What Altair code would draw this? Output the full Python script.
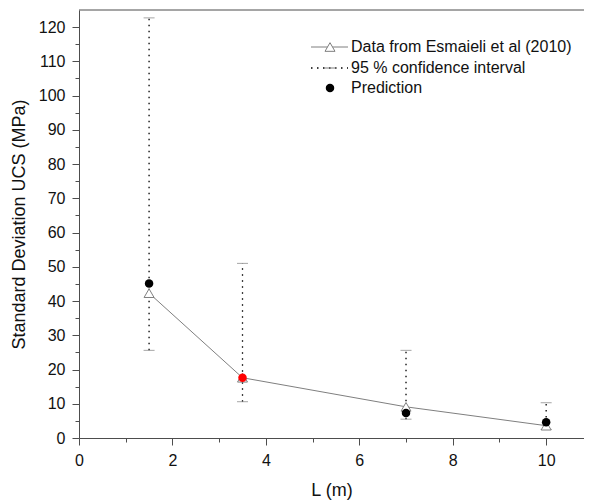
import altair as alt
import pandas as pd

# ---- data ----
L = [1.5, 3.5, 7, 10]
data_sd = [42.3, 17.6, 9.1, 3.6]        # Esmaieli et al (2010)
pred_sd = [45.1, 17.6, 7.3, 4.6]        # Prediction
ci_low = [25.6, 10.6, 5.5, 2.5]         # 95 % CI lower
ci_high = [122.7, 51.0, 25.6, 10.3]     # 95 % CI upper
pred_color = ["black", "red", "black", "black"]

legend_labels = ["Data from Esmaieli et al (2010)", "95 % confidence interval", "Prediction"]
x_ticks = list(range(0, 11))
y_ticks = list(range(0, 121, 5))

df = pd.DataFrame({"L": L, "data": data_sd, "pred": pred_sd,
                   "lo": ci_low, "hi": ci_high, "col": pred_color})

W, H = 505, 428
FONT = "Liberation Sans"
AX = "#4d4d4d"
GRAY = "#7f7f7f"

xs = alt.Scale(domain=[0, 10.81], nice=False, zero=False)
ys = alt.Scale(domain=[0, 125], nice=False)

x_axis = alt.Axis(values=x_ticks, labelExpr="datum.value % 2 === 0 ? datum.label : ''",
                  tickSize={"condition": {"test": "datum.value % 2 === 0", "value": 7}, "value": 4},
                  grid=False, domainColor=AX, tickColor=AX, labelColor="#111", titleColor="#111",
                  labelFont=FONT, titleFont=FONT, labelFontSize=16, titleFontSize=18,
                  titleFontWeight="normal", labelPadding=7, titlePadding=13, labelFlush=False,
                  labelOverlap=False)
y_axis = alt.Axis(values=y_ticks, labelExpr="datum.value % 10 === 0 ? datum.label : ''",
                  tickSize={"condition": {"test": "datum.value % 10 === 0", "value": 7}, "value": 4},
                  grid=False, domainColor=AX, tickColor=AX, labelColor="#111", titleColor="#111",
                  labelFont=FONT, titleFont=FONT, labelFontSize=16, titleFontSize=18,
                  titleFontWeight="normal", labelPadding=7, titlePadding=10, labelFlush=False,
                  labelOverlap=False)

base = alt.Chart(df)

ci = base.mark_rule(color="black", strokeWidth=1.3, strokeDash=[1.5, 4.5]).encode(
    x=alt.X("L:Q", scale=xs, axis=x_axis, title="L (m)"),
    y=alt.Y("lo:Q", scale=ys, axis=y_axis, title="Standard Deviation UCS (MPa)"),
    y2="hi:Q")
cap_lo = base.mark_tick(orient="horizontal", size=11, thickness=1, color=GRAY).encode(
    x=alt.X("L:Q", axis=x_axis), y=alt.Y("lo:Q", axis=y_axis))
cap_hi = base.mark_tick(orient="horizontal", size=11, thickness=1, color=GRAY).encode(
    x=alt.X("L:Q", axis=x_axis), y=alt.Y("hi:Q", axis=y_axis))
line = base.mark_line(color=GRAY, strokeWidth=1).encode(
    x=alt.X("L:Q", axis=x_axis), y=alt.Y("data:Q", axis=y_axis))
tri = base.mark_point(shape="triangle-up", filled=True, fill="white", stroke=GRAY,
                      strokeWidth=1, size=100, opacity=1).encode(
    x=alt.X("L:Q", axis=x_axis), y=alt.Y("data:Q", axis=y_axis))
pred = base.mark_circle(size=72, opacity=1).encode(
    x=alt.X("L:Q", axis=x_axis), y=alt.Y("pred:Q", axis=y_axis),
    color=alt.Color("col:N", scale=None, legend=None))

one = alt.Data(values=[{"a": 1}])
top_line = alt.Chart(one).mark_rule(color=AX, strokeWidth=1).encode(
    x=alt.value(0), x2=alt.value(W), y=alt.value(0))

# ---- hand-drawn legend ----
LX0, LX1, LXC, LTX = 232, 269, 251, 272
rows = [37, 58, 78]
leg = []
leg.append(alt.Chart(one).mark_rule(color=GRAY, strokeWidth=1).encode(
    x=alt.value(LX0), x2=alt.value(LX1), y=alt.value(rows[0])))
leg.append(alt.Chart(one).mark_point(shape="triangle-up", filled=True, fill="white", stroke=GRAY,
                                      strokeWidth=1, size=100, opacity=1).encode(
    x=alt.value(LXC), y=alt.value(rows[0])))
leg.append(alt.Chart(one).mark_rule(color="black", strokeWidth=1.3, strokeDash=[1.5, 4.5]).encode(
    x=alt.value(LX0), x2=alt.value(LX1), y=alt.value(rows[1])))
leg.append(alt.Chart(one).mark_rule(color=GRAY, strokeWidth=1).encode(
    x=alt.value(LXC - 6), x2=alt.value(LXC + 6), y=alt.value(rows[1])))
leg.append(alt.Chart(one).mark_circle(size=72, opacity=1, color="black").encode(
    x=alt.value(LXC), y=alt.value(rows[2])))
for lab, ry in zip(legend_labels, rows):
    leg.append(alt.Chart(alt.Data(values=[{"t": lab}])).mark_text(
        align="left", baseline="middle", font=FONT, fontSize=16, color="#111").encode(
        x=alt.value(LTX), y=alt.value(ry), text="t:N"))

chart = alt.layer(ci, cap_lo, cap_hi, line, tri, pred, top_line, *leg).properties(
    width=W, height=H,
    autosize=alt.AutoSizeParams(type="none"),
    padding={"left": 71, "top": 2, "right": 0, "bottom": 62},
).configure_view(stroke=None).configure_axis(labelOverlap=False)

chart.save("out.html", embed_options={"renderer": "svg", "actions": False})
